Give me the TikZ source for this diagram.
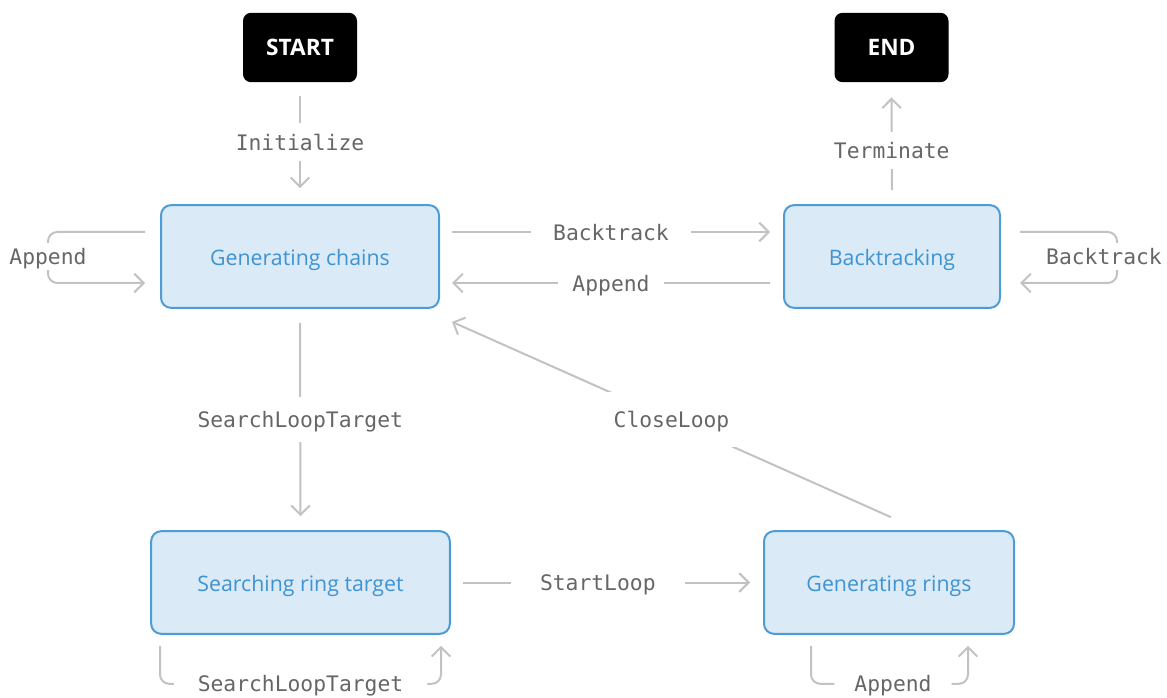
\documentclass[tikz,border=0pt]{standalone}
\usepackage{fontspec}
\setmainfont{Open Sans}
\setmonofont{DejaVu Sans Mono}
\usepackage{tikz}
\usetikzlibrary{arrows.meta,positioning,calc}
\definecolor{ringfill}{HTML}{DAEAF7}
\definecolor{ringline}{HTML}{4D9CD6}
\definecolor{ringtext}{HTML}{3F93D1}
\definecolor{ringgray}{HTML}{C2C2C2}
\definecolor{labelgray}{HTML}{666666}

\begin{document}
\begin{tikzpicture}[x=0.75pt, y=-0.75pt,
    state/.style={draw=ringline, fill=ringfill, line width=1.5pt, rounded corners=7.5pt,
                  minimum height=77pt, text=ringtext, font=\fontsize{16}{19}\selectfont,
                  text height=14pt, text depth=0pt},
    term/.style={fill=black, rounded corners=6pt, minimum width=85.5pt,
                 minimum height=52pt, text=white, font=\fontsize{17}{20}\selectfont\bfseries},
    arr/.style={-{Straight Barb[length=7pt,width=14pt]}, draw=ringgray, line width=1.5pt},
    lbl/.style={fill=white, text=labelgray, font=\ttfamily\fontsize{16}{19}\selectfont,
                inner xsep=17pt, inner ysep=8pt, text depth=0pt},
    looplbl/.style={lbl, inner xsep=15pt, inner ysep=4pt}
]
    \useasboundingbox (0,0) rectangle (1167,698);

    \node[term] (start) at (300,47.5) {START};
    \node[term] (end)   at (891.5,47.5) {END};

    \node[state, minimum width=208.5pt] (gc)  at (300,256.5) {Generating chains};
    \node[state, minimum width=162pt]   (bt)  at (892,256.5) {Backtracking};
    \node[state, minimum width=224pt]   (srt) at (300.5,582.5) {Searching ring target};
    \node[state, minimum width=187.5pt] (gr)  at (889,582.5) {Generating rings};

    % transitions
    \draw[arr] ($(start.south)+(0,14)$) -- node[lbl] {Initialize} ($(gc.north)+(0,-16)$);
    \draw[arr] ($(gc.east)+(12,-24.5)$) -- node[lbl] {Backtrack} ($(bt.west)+(-13,-24.5)$);
    \draw[arr] ($(bt.west)+(-13,26.5)$) -- node[lbl, inner xsep=11pt] {Append} ($(gc.east)+(12,26.5)$);
    \draw[arr] ($(bt.north)+(0,-14)$) -- node[lbl, pos=0.43] {Terminate} ($(end.south)+(0,15)$);
    \draw[arr] ($(gc.south)+(0,14)$) -- node[lbl, inner ysep=11pt] {SearchLoopTarget} ($(srt.north)+(0,-14)$);
    \draw[arr] ($(srt.east)+(12,0)$) -- node[lbl, pos=0.47, inner xsep=22pt] {StartLoop} ($(gr.west)+(-13,0)$);
    \draw[arr] ($(gr.north)+(2,-13)$) -- node[lbl, inner ysep=14.5pt] {CloseLoop} ($(gc.south east)+(12,13)$);

    % self loops
    \draw[arr, rounded corners=7pt] ($(gc.west)+(-15,-24.5)$) -| ($(gc.west)+(-112,0)$)
        node[looplbl] {Append} |- ($(gc.west)+(-15,26.5)$);
    \draw[arr, rounded corners=7pt] ($(bt.east)+(19,-24.5)$) -| ($(bt.east)+(116,0)$)
        |- ($(bt.east)+(19,26.5)$);
    \node[looplbl, inner xsep=2pt] (btloop) at ($(bt.east)+(103,0)$) {Backtrack};
    \draw[arr, rounded corners=7pt] ($(srt.south)+(-140.5,11)$) |- ($(srt.south)+(0,49)$)
        node[looplbl, inner xsep=18pt] {SearchLoopTarget} -| ($(srt.south)+(140.5,11)$);
    \draw[arr, rounded corners=7pt] ($(gr.south)+(-78,11)$) |- ($(gr.south)+(4,49)$)
        node[looplbl] {Append} -| ($(gr.south)+(79,11)$);
\end{tikzpicture}
\end{document}
